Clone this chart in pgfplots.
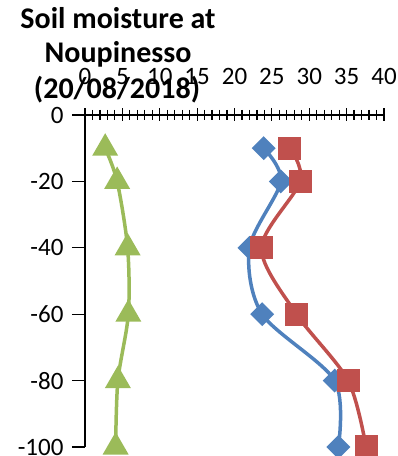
\documentclass[border=0pt]{standalone}
\usepackage{fontspec}
\setmainfont{Carlito}
\usepackage{pgfplots}
\pgfplotsset{compat=1.18}

\definecolor{sblue}{HTML}{4F81BD}
\definecolor{sred}{HTML}{C0504D}
\definecolor{sgreen}{HTML}{9BBB59}

\begin{document}
\begin{tikzpicture}
\begin{axis}[
  name=ax, at={(0,0)}, anchor=south west,
  scale only axis, width=299bp, height=332bp,
  xmin=0, xmax=40, ymin=-100, ymax=0,
  clip=false,
  axis x line=top, axis y line=left,
  axis line style={-, line width=1.4bp, black},
  every tick/.style={black, line width=1.2bp},
  xtick={0,5,...,40}, minor x tick num=4,
  xticklabels={0,5,10,15,20,25,30,35,40},
  ytick={-100,-80,-60,-40,-20,0},
  yticklabels={-100,-80,-60,-40,-20,0},
  xtick align=center, ytick align=outside,
  major tick length=13bp, minor tick length=10bp,
  ticklabel style={font=\fontsize{25bp}{29bp}\selectfont},
  yticklabel style={anchor=east, xshift=-5bp},
  xticklabel style={anchor=base, yshift=24bp},
]
\addplot[sblue, line width=3.5bp, smooth, mark=square*, mark size=6.7bp,
  mark options={rotate=45, solid, fill=sblue}]
  coordinates {(23.9,-10) (26.2,-20) (22.0,-40) (23.7,-60) (33.4,-80) (33.9,-100)};
\addplot[sred, line width=3.5bp, smooth, mark=square*, mark size=9.8bp,
  mark options={solid, fill=sred}]
  coordinates {(27.4,-10) (28.8,-20) (23.6,-40) (28.3,-60) (35.2,-80) (37.6,-100)};
\addplot[sgreen, line width=3.5bp, smooth, mark=triangle*, mark size=11.5bp,
  mark options={solid, fill=sgreen}]
  coordinates {(2.7,-10) (4.3,-20) (5.7,-40) (5.8,-60) (4.4,-80) (4.1,-100)};
\end{axis}
\begin{scope}[every node/.style={font=\bfseries\fontsize{30bp}{34bp}\selectfont, anchor=base, inner sep=0pt}]
\node at (33bp,418bp) {Soil moisture at};
\node at (33bp,384bp) {Noupinesso};
\node at (32bp,348bp) {(20/08/2018)};
\end{scope}
\pgfresetboundingbox
\useasboundingbox (-85bp,-9bp) rectangle (313bp,447bp);
\end{tikzpicture}
\end{document}
